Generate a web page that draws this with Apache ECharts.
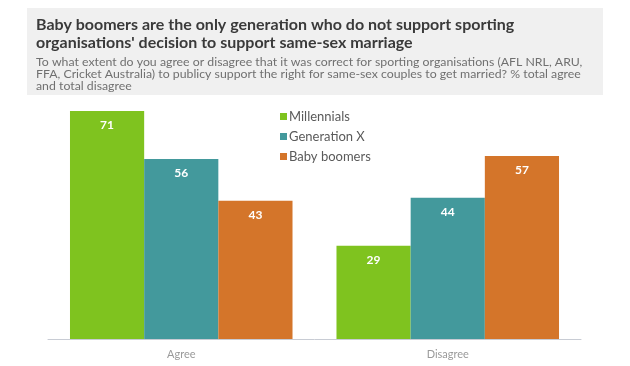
<!DOCTYPE html>
<html><head><meta charset="utf-8">
<script src="https://cdn.jsdelivr.net/npm/echarts@6/dist/echarts.min.js"></script>
<style>html,body{margin:0;padding:0;background:#fff}#c{width:630px;height:366px}</style>
</head><body><div id="c"></div>
<script>
const categories = ['Agree', 'Disagree'];
const millennials = [71, 29];
const generationX = [56, 44];
const babyBoomers = [43, 57];
const seriesNames = ['Millennials', 'Generation X', 'Baby boomers'];
const colors = ['#7fc31f', '#43999c', '#d4752a'];
const titleText = "Baby boomers are the only generation who do not support sporting\norganisations' decision to support same-sex marriage";
const subText = "To what extent do you agree or disagree that it was correct for sporting organisations (AFL NRL, ARU,\nFFA, Cricket Australia) to publicy support the right for same-sex couples to get married? % total agree\nand total disagree";

const chart = echarts.init(document.getElementById('c'));
const values = [millennials, generationX, babyBoomers];
chart.setOption({
  animation: false,
  graphic: [{type: 'rect', left: 27, top: 8, shape: {width: 576, height: 87}, style: {fill: '#f0f0f0'}, z: -10}],
  title: {
    text: titleText, subtext: subText, left: 31, top: 11, itemGap: 4,
    textStyle: {fontFamily: 'Lato', fontWeight: 'bold', fontSize: 16, color: '#3a3a3a', lineHeight: 18},
    subtextStyle: {fontFamily: 'Lato', fontSize: 12.3, color: '#707070', lineHeight: 12}
  },
  legend: {
    orient: 'vertical', left: 275, top: 105, itemGap: 7, itemWidth: 7, itemHeight: 7,
    icon: 'rect', data: seriesNames,
    textStyle: {fontFamily: 'Lato', fontSize: 13, color: '#5a5a5a', padding: [0, 0, 0, -3]}
  },
  grid: {left: 48, right: 49, top: 82, bottom: 27},
  xAxis: {
    type: 'category', data: categories,
    axisLine: {lineStyle: {color: '#c8ccd4'}}, axisTick: {show: false},
    axisLabel: {fontFamily: 'Lato', fontSize: 11, color: '#9a9a9a', margin: 10}
  },
  yAxis: {type: 'value', min: 0, max: 80, show: false, splitLine: {show: false}},
  series: values.map((v, i) => ({
    name: seriesNames[i], type: 'bar', data: v, barGap: '0%', barCategoryGap: '16.5%',
    itemStyle: {color: colors[i]},
    label: {show: true, position: 'insideTop', distance: 8, color: '#fff', fontFamily: 'Lato', fontWeight: 'bold', fontSize: 12}
  }))
});
</script></body></html>
